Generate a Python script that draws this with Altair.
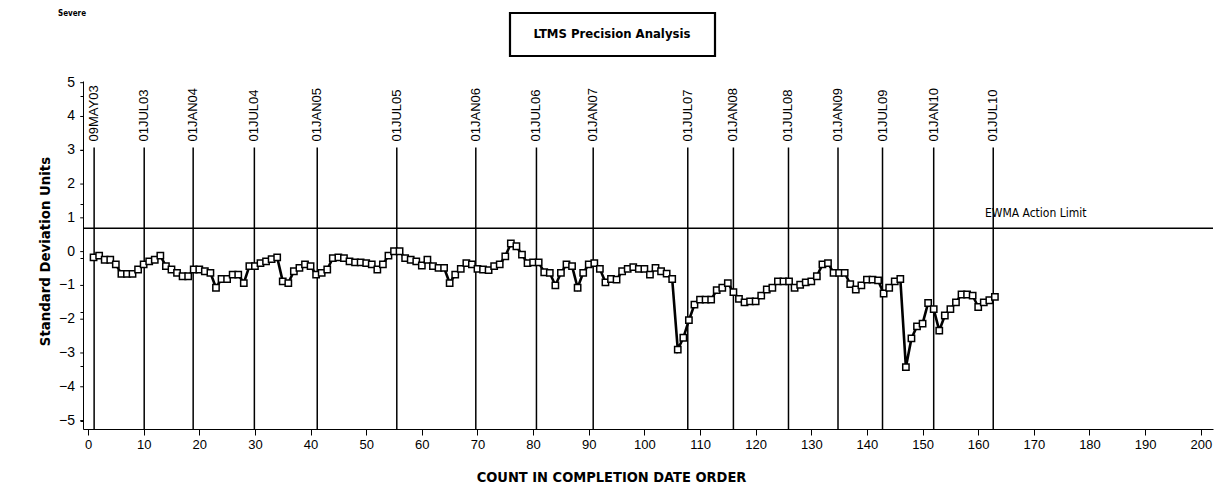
import altair as alt
import pandas as pd

# ---- data ----
ewma = [
    -0.17, -0.12, -0.24, -0.24, -0.38, -0.66, -0.66, -0.66, -0.53, -0.38,
    -0.29, -0.24, -0.12, -0.43, -0.53, -0.63, -0.73, -0.73, -0.53, -0.53,
    -0.58, -0.63, -1.07, -0.81, -0.81, -0.68, -0.68, -0.93, -0.43, -0.43,
    -0.34, -0.29, -0.22, -0.17, -0.88, -0.93, -0.58, -0.48, -0.38, -0.43,
    -0.68, -0.63, -0.53, -0.19, -0.17, -0.19, -0.29, -0.32, -0.32, -0.34,
    -0.38, -0.53, -0.38, -0.12, 0.01, 0.01, -0.19, -0.24, -0.29, -0.41,
    -0.24, -0.43, -0.48, -0.48, -0.93, -0.68, -0.51, -0.34, -0.38, -0.51,
    -0.53, -0.55, -0.43, -0.38, -0.14, 0.24, 0.16, -0.09, -0.34, -0.32,
    -0.32, -0.61, -0.63, -1.00, -0.63, -0.38, -0.43, -1.07, -0.63, -0.38,
    -0.34, -0.51, -0.91, -0.81, -0.83, -0.58, -0.51, -0.46, -0.51, -0.51,
    -0.68, -0.48, -0.58, -0.65, -0.81, -2.90, -2.55, -2.03, -1.57, -1.42,
    -1.42, -1.42, -1.14, -1.07, -0.93, -1.20, -1.40, -1.50, -1.47, -1.47,
    -1.30, -1.12, -1.07, -0.88, -0.88, -0.88, -1.07, -0.98, -0.91, -0.88,
    -0.73, -0.38, -0.34, -0.63, -0.63, -0.63, -0.96, -1.12, -1.00, -0.83,
    -0.83, -0.85, -1.24, -1.07, -0.88, -0.81, -3.42, -2.57, -2.21, -2.13,
    -1.52, -1.70, -2.34, -1.89, -1.70, -1.50, -1.27, -1.27, -1.30, -1.64,
    -1.50, -1.44, -1.34,
]
counts = list(range(1, len(ewma) + 1))

date_labels = ["09MAY03", "01JUL03", "01JAN04", "01JUL04", "01JAN05", "01JUL05",
               "01JAN06", "01JUL06", "01JAN07", "01JUL07", "01JAN08", "01JUL08",
               "01JAN09", "01JUL09", "01JAN10", "01JUL10"]
date_pos = [1.1, 10.1, 18.9, 29.9, 41.2, 55.5, 69.7, 80.6, 90.8, 107.8,
            116.0, 125.9, 134.8, 142.8, 152.0, 162.7]

action_limit = 0.69
ref_top = 3.08
label_base = 3.26

x_ticks = list(range(0, 201, 10))
y_major = list(range(-5, 6))
y_major_text = [("\u2212" + str(-v)) if v < 0 else str(v) for v in y_major]
y_all = [round(-5 + 0.2 * i, 1) for i in range(51)]

# ---- layout ----
W, H = 1130, 348
XDOM = [-0.9, 202.2]
YDOM = [-5.25, 5.05]
FONT = "Liberation Sans, Arial, sans-serif"
NARROW = "DejaVu Sans Condensed, Liberation Sans, sans-serif"

df = pd.DataFrame({"count": counts, "ewma": ewma})
dates = pd.DataFrame({"pos": date_pos, "label": date_labels,
                      "top": [ref_top] * len(date_pos),
                      "bottom": [YDOM[0]] * len(date_pos),
                      "lab": [label_base] * len(date_pos)})
limit_df = pd.DataFrame({"y": [action_limit], "x": [161.2], "ty": [1.15],
                         "text": ["EWMA Action Limit"]})
major_df = pd.DataFrame({"v": y_major, "t": y_major_text,
                         "x0": [XDOM[0]] * len(y_major),
                         "x1": [XDOM[0] - 0.5] * len(y_major)})
one = pd.DataFrame({"a": [0]})

xscale = alt.Scale(domain=XDOM, nice=False, zero=False)
yscale = alt.Scale(domain=YDOM, nice=False, zero=False)

xaxis = alt.Axis(values=x_ticks, title="COUNT IN COMPLETION DATE ORDER",
                 titleFont=NARROW, titleFontSize=14.5, titleFontWeight="bold",
                 titleX=528, titleY=48, titleBaseline="middle", titleAlign="center",
                 labelFont=FONT, labelFontSize=13, labelColor="black",
                 tickColor="black", domainColor="black", tickSize=6,
                 labelPadding=3, grid=False, domain=True, labelOverlap=False)
# y axis: line and ticks (labels drawn as a text layer below)
yaxis = alt.Axis(values=y_all, labels=False, title="Standard Deviation Units",
                 titleFont=NARROW, titleFontSize=14.8, titleFontWeight="bold",
                 titleX=-38, titleY=170, titleAlign="center", titleBaseline="middle",
                 tickColor="black", domainColor="black", tickSize=3, grid=False)

base = alt.Chart(df)
line = base.mark_line(color="black", strokeWidth=2.6).encode(
    x=alt.X("count:Q", scale=xscale, axis=xaxis),
    y=alt.Y("ewma:Q", scale=yscale, axis=yaxis))
pts = base.mark_point(shape="square", filled=True, fill="white", stroke="black",
                      strokeWidth=1.5, size=40, opacity=1).encode(x="count:Q", y="ewma:Q")

vrules = alt.Chart(dates).mark_rule(color="black", strokeWidth=1.5).encode(
    x="pos:Q", y="top:Q", y2="bottom:Q")
vlabels = alt.Chart(dates).mark_text(angle=270, align="left", baseline="middle",
                                     font=FONT, fontSize=13, color="black").encode(
    x="pos:Q", y="lab:Q", text="label:N")

# whole-number ticks and labels of the y axis
major_ticks = alt.Chart(major_df).mark_rule(color="black", strokeWidth=1).encode(
    y="v:Q", x="x0:Q", x2="x1:Q")
major_labels = alt.Chart(major_df).mark_text(align="right", baseline="middle",
                                             font=FONT, fontSize=14, color="black").encode(
    y="v:Q", x=alt.value(-8), text="t:N")

hrule = alt.Chart(limit_df).mark_rule(color="black", strokeWidth=1.5).encode(y="y:Q")
hlabel = alt.Chart(limit_df).mark_text(align="left", baseline="middle", font=NARROW,
                                       fontSize=12, color="black").encode(
    x="x:Q", y="ty:Q", text="text:N")

title_box = alt.Chart(one).mark_rect(filled=False, stroke="black", strokeWidth=2.2).encode(
    x=alt.value(427), x2=alt.value(632), y=alt.value(-68), y2=alt.value(-25))
title_txt = alt.Chart(one).mark_text(font=NARROW, fontSize=13, fontWeight="bold",
                                     color="black", align="center", baseline="middle").encode(
    x=alt.value(529), y=alt.value(-47), text=alt.value("LTMS Precision Analysis"))
severe = alt.Chart(one).mark_text(font=NARROW, fontSize=8, fontWeight="bold",
                                  color="black", align="center", baseline="alphabetic").encode(
    x=alt.value(-11), y=alt.value(-65), text=alt.value("Severe"))

chart = alt.layer(line, vrules, vlabels, major_ticks, major_labels, hrule, hlabel, pts,
                  title_box, title_txt, severe).properties(
    width=W, height=H,
    autosize=alt.AutoSizeParams(type="none"),
    padding={"left": 75, "top": 73, "right": 10, "bottom": 54},
).configure(background="white").configure_view(stroke=None).configure_axis(labelOverlap=False)

chart.save("out.html", embed_options={"renderer": "svg", "actions": False})
